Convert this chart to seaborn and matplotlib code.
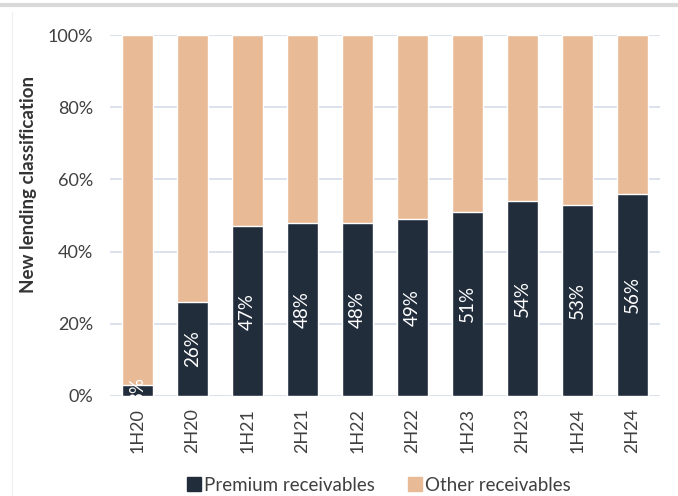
import numpy as np
import pandas as pd
import seaborn as sns
from matplotlib import pyplot as plt
from matplotlib.lines import Line2D
from matplotlib.ticker import PercentFormatter

# data
periods = ["1H20", "2H20", "1H21", "2H21", "1H22", "2H22", "1H23", "2H23", "1H24", "2H24"]
premium = [3, 26, 47, 48, 48, 49, 51, 54, 53, 56]
total = [100] * len(periods)

navy = "#222d3c"
peach = "#e8ba95"
grid_col = "#d5dde7"
text_col = "#404040"

df = pd.DataFrame({"period": periods, "premium": premium, "total": total})

sns.set_style("white")
plt.rcParams["font.family"] = ["Lato", "DejaVu Sans"]

fig = plt.figure(figsize=(6.78, 4.96), dpi=100)
ax = fig.add_axes([0.162, 0.202, 0.811, 0.727])

sns.barplot(data=df, x="period", y="total", color=peach, width=0.56, saturation=1, ax=ax)
sns.barplot(data=df, x="period", y="premium", color=navy, width=0.56, saturation=1, ax=ax)

# white % labels inside the dark bars
for i, v in enumerate(premium):
    ax.text(i, v / 2, f"{v}%", rotation=90, ha="center", va="center",
            color="white", fontsize=13.5)

ax.set_ylim(0, 100)
ax.set_xlim(-0.5, len(periods) - 0.5)
ax.set_yticks(range(0, 101, 20))
ax.yaxis.set_major_formatter(PercentFormatter(decimals=0))
ax.yaxis.grid(True, color=grid_col, linewidth=1.2)
ax.set_axisbelow(True)
for s in ax.spines.values():
    s.set_visible(False)
ax.tick_params(axis="x", labelrotation=90, labelsize=13, colors=text_col, length=0, pad=9)
ax.tick_params(axis="y", labelsize=13, colors=text_col, length=0, pad=12)
ax.set_xlabel("")
ax.set_ylabel("New lending classification", fontsize=13.5, fontweight="bold", color="#333333",
              va="center")
ax.yaxis.set_label_coords(-0.148, 0.587)

# legend
handles = [Line2D([], [], marker="s", linestyle="", color=navy, markersize=9.5),
           Line2D([], [], marker="s", linestyle="", color=peach, markersize=9.5)]
fig.legend(handles, ["Premium receivables", "Other receivables"], loc="lower center",
           bbox_to_anchor=(0.559, -0.03), ncol=2, frameon=False, fontsize=13.5,
           handlelength=0.7, handletextpad=0.2, columnspacing=1.75, labelcolor=text_col)

# screenshot frame
fig.add_artist(Line2D([0, 1], [0.99, 0.99], color="#d9d9d9", linewidth=3, transform=fig.transFigure))
fig.add_artist(Line2D([0.018, 0.018], [0, 0.975], color="#f0f0f0", linewidth=1, transform=fig.transFigure))

fig.savefig("out.png", dpi=100)
